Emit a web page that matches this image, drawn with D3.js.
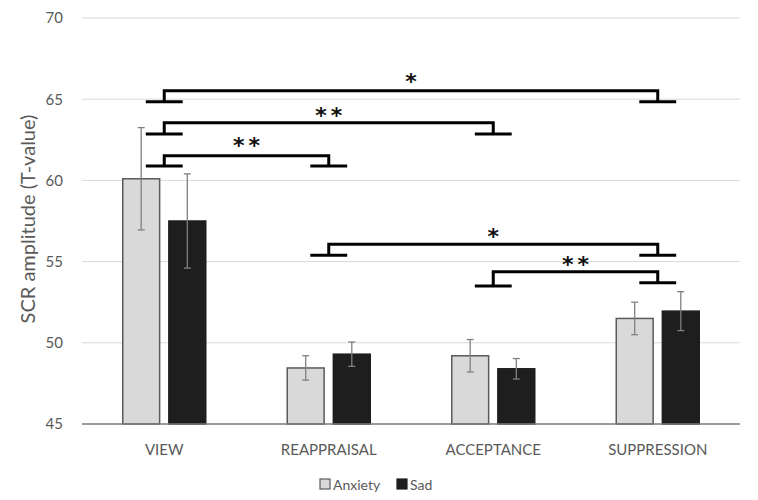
<!DOCTYPE html>
<html>
<head>
<meta charset="utf-8">
<script src="https://cdn.jsdelivr.net/npm/d3@7"></script>
<style>
  html, body { margin: 0; padding: 0; background: #fff; }
  svg { display: block; font-family: Lato, "Open Sans", sans-serif; }
</style>
</head>
<body>
<svg id="chart" width="758" height="500"></svg>
<script>
// ---- data ----
const categories = ["VIEW", "REAPPRAISAL", "ACCEPTANCE", "SUPPRESSION"];
const seriesNames = ["Anxiety", "Sad"];
const anxietyValues = [60.1, 48.45, 49.2, 51.5];
const anxietyErrors = [3.15, 0.75, 1.0, 1.0];
const sadValues = [57.5, 49.3, 48.4, 51.95];
const sadErrors = [2.9, 0.75, 0.63, 1.2];
const yTicks = [45, 50, 55, 60, 65, 70];
// significance brackets: [fromCategory, toCategory, lineValue, leftFootValue, rightFootValue, labelValue, label]
const brackets = [
  [0, 3, 65.52, 64.85, 64.85, 66.40, "*"],
  [0, 2, 63.55, 62.86, 62.86, 64.30, "**"],
  [0, 1, 61.52, 60.89, 60.89, 62.48, "**"],
  [1, 3, 56.07, 55.39, 55.39, 56.88, "*"],
  [2, 3, 54.38, 53.50, 53.70, 55.10, "**"]
];

// ---- layout ----
const svg = d3.select("#chart");
const plotLeft = 82, plotRight = 740, plotTop = 18, plotBottom = 424;

const x = d3.scaleBand().domain(categories).range([plotLeft, plotRight]).paddingInner(0).paddingOuter(0);
const y = d3.scaleLinear().domain([45, 70]).range([plotBottom, plotTop]);
const groupHalf = 41.5;
const x1 = d3.scaleBand().domain(seriesNames).range([-groupHalf, groupHalf]).paddingInner(0.2);
const center = c => x(c) + x.bandwidth() / 2;

// gridlines
svg.append("g").selectAll("line").data(yTicks.filter(t => t !== 45)).join("line")
  .attr("x1", plotLeft).attr("x2", plotRight)
  .attr("y1", d => y(d)).attr("y2", d => y(d))
  .attr("stroke", "#d9d9d9").attr("stroke-width", 1);

// y axis tick labels
const yAxis = d3.axisLeft(y).tickValues(yTicks).tickSize(0).tickPadding(0);
const gy = svg.append("g").attr("transform", `translate(${plotLeft - 19},0)`).call(yAxis);
gy.select(".domain").remove();
gy.selectAll("text").attr("fill", "#595959").style("font-size", "15px").style("font-family", "Lato, sans-serif");

// y axis title
svg.append("text")
  .attr("transform", `translate(35,219) rotate(-90)`)
  .attr("text-anchor", "middle")
  .attr("fill", "#595959")
  .style("font-size", "20px")
  .text("SCR amplitude (T-value)");

// bars
const seriesData = [
  { name: "Anxiety", values: anxietyValues, errors: anxietyErrors, fill: "#d9d9d9", stroke: "#5a5a5a" },
  { name: "Sad", values: sadValues, errors: sadErrors, fill: "#1e1e1e", stroke: "#1e1e1e" }
];
seriesData.forEach(s => {
  const g = svg.append("g");
  g.selectAll("rect").data(categories).join("rect")
    .attr("x", (c) => center(c) + x1(s.name))
    .attr("y", (c, i) => y(s.values[i]))
    .attr("width", x1.bandwidth())
    .attr("height", (c, i) => y(45) - y(s.values[i]))
    .attr("fill", s.fill)
    .attr("stroke", s.stroke)
    .attr("stroke-width", 1.5);
});

// x axis line
svg.append("line").attr("x1", plotLeft).attr("x2", plotRight).attr("y1", y(45)).attr("y2", y(45))
  .attr("stroke", "#7a7a7a").attr("stroke-width", 1.5);

// error bars
seriesData.forEach(s => {
  const g = svg.append("g").attr("stroke", "#808080").attr("stroke-width", 1.3);
  categories.forEach((c, i) => {
    const cx = center(c) + x1(s.name) + x1.bandwidth() / 2;
    const hi = y(s.values[i] + s.errors[i]);
    const lo = y(s.values[i] - s.errors[i]);
    g.append("line").attr("x1", cx).attr("x2", cx).attr("y1", hi).attr("y2", lo);
    g.append("line").attr("x1", cx - 3.5).attr("x2", cx + 3.5).attr("y1", hi).attr("y2", hi);
    g.append("line").attr("x1", cx - 3.5).attr("x2", cx + 3.5).attr("y1", lo).attr("y2", lo);
  });
});

// x category labels
svg.append("g").selectAll("text").data(categories).join("text")
  .attr("x", c => center(c)).attr("y", 455)
  .attr("text-anchor", "middle")
  .attr("fill", "#595959")
  .style("font-size", "15px")
  .text(c => c);

// significance brackets
const footHalf = x1.bandwidth() / 2;
const bg = svg.append("g").attr("stroke", "#000").attr("stroke-width", 3).attr("fill", "none");
brackets.forEach(b => {
  const xa = center(categories[b[0]]), xb = center(categories[b[1]]);
  const yl = y(b[2]), yfa = y(b[3]), yfb = y(b[4]);
  bg.append("path").attr("d", `M${xa},${yfa} L${xa},${yl} L${xb},${yl} L${xb},${yfb}`)
    .attr("stroke-linejoin", "miter");
  bg.append("line").attr("x1", xa - footHalf).attr("x2", xa + footHalf).attr("y1", yfa).attr("y2", yfa);
  bg.append("line").attr("x1", xb - footHalf).attr("x2", xb + footHalf).attr("y1", yfb).attr("y2", yfb);
  const label = svg.append("text")
    .attr("x", (xa + xb) / 2 + (b[6].length > 1 ? 2 : 0)).attr("y", y(b[5]) + 12.5)
    .attr("text-anchor", "middle")
    .attr("fill", "#111")
    .style("font-family", "'DejaVu Sans', sans-serif")
    .style("font-weight", "bold")
    .style("font-size", "22px")
    .text(b[6]);
  if (b[6].length > 1) label.style("letter-spacing", "4px");
});

// legend
const legend = svg.append("g");
const legendX = [320, 397];
seriesData.forEach((s, i) => {
  legend.append("rect").attr("x", legendX[i]).attr("y", 479).attr("width", 10).attr("height", 10)
    .attr("fill", s.fill).attr("stroke", s.stroke).attr("stroke-width", 1.2);
  legend.append("text").attr("x", legendX[i] + 13).attr("y", 489.5)
    .attr("fill", "#595959").style("font-size", "14px").text(s.name);
});
</script>
</body>
</html>
